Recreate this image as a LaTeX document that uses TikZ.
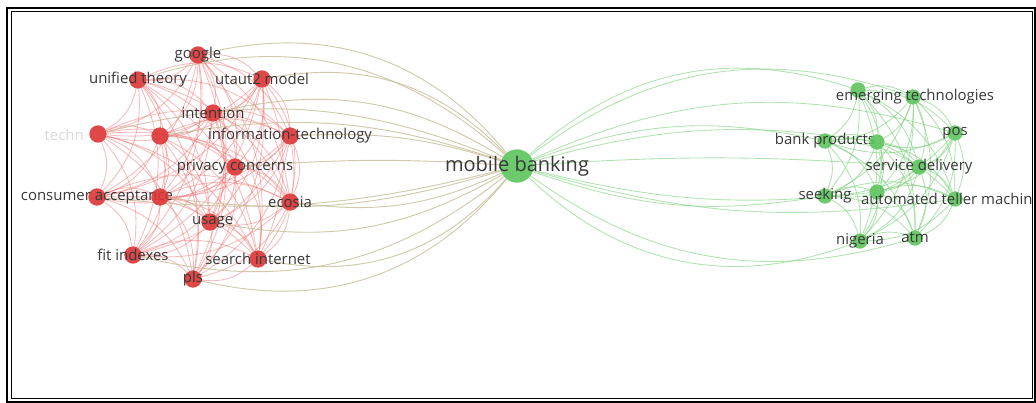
\documentclass[tikz,border=0pt]{standalone}
\usepackage{fontspec}
\setmainfont{Open Sans}

\definecolor{vosred}{RGB}{220,52,52}
\definecolor{vosgreen}{RGB}{92,196,92}
\definecolor{redlink}{RGB}{240,120,120}
\definecolor{greenlink}{RGB}{124,208,124}
\definecolor{crosslink}{RGB}{196,188,150}
\definecolor{labelgray}{RGB}{56,56,56}

\pgfdeclarelayer{links}
\pgfsetlayers{links,main}

\begin{document}
\begin{tikzpicture}
  [x=0.75pt,y=-0.75pt,
   every node/.style={circle,inner sep=0pt},
   rednode/.style={fill=vosred,minimum size=13pt,fill opacity=.9},
   greennode/.style={fill=vosgreen,minimum size=11.5pt,fill opacity=.9},
   lbl/.style={rectangle,fill=none,draw=none,text opacity=1,text=labelgray,
     font=\fontsize{11.2}{13}\selectfont},
   rededge/.style={draw=redlink,draw opacity=.5,line width=.65pt},
   greenedge/.style={draw=greenlink,draw opacity=.6,line width=.65pt},
   crossedge/.style={draw=crosslink,draw opacity=.8,line width=.7pt}]

  \useasboundingbox (0,0) rectangle (1036,403);
  \draw[line width=1.5pt] (7,8) rectangle (1035,402);
  \draw[line width=.6pt] (11,11) rectangle (1032,398);

  \begin{scope}
  \clip (12,12) rectangle (1031,397);

  % red cluster
  \node[rednode,label={[lbl]center:google}] (r1) at (198,55) {};
  \node[rednode,label={[lbl]center:unified theory}] (r2) at (138,80) {};
  \node[rednode,label={[lbl]center:utaut2 model}] (r3) at (262,79) {};
  \node[rednode,label={[lbl]center:intention}] (r4) at (213,113) {};
  \node[rednode] (r5) at (98,134) {};
  \node[lbl,text=gray!30,anchor=east] (t5) at (84,135) {techn};
  \node[rednode] (r6) at (160,136) {};
  \node[rednode,label={[lbl]center:information-technology}] (r7) at (290,136) {};
  \node[rednode,label={[lbl]center:privacy concerns}] (r8) at (235,167) {};
  \node[rednode,label={[lbl]center:consumer acceptance}] (r9) at (97,197) {};
  \node[rednode] (r10) at (160,197) {};
  \node[rednode,label={[lbl]center:ecosia}] (r11) at (290,202) {};
  \node[rednode,label={[lbl,xshift=2pt]center:usage}] (r12) at (210,222) {};
  \node[rednode,label={[lbl]center:fit indexes}] (r13) at (133,255) {};
  \node[rednode,label={[lbl]center:search internet}] (r14) at (258,259) {};
  \node[rednode,label={[lbl]center:pls}] (r15) at (193,279) {};

  % green cluster
  \node[greennode] (g1) at (858,90) {};
  \node[greennode,label={[lbl,xshift=1.5pt]center:emerging technologies}] (g2) at (913,97) {};
  \node[greennode,label={[lbl]center:pos}] (g3) at (955,133) {};
  \node[greennode,label={[lbl]center:bank products}] (g4) at (825,141) {};
  \node[greennode] (g5) at (877,142) {};
  \node[greennode,label={[lbl]center:service delivery}] (g6) at (919,167) {};
  \node[greennode,label={[lbl]center:seeking}] (g7) at (825,196) {};
  \node[greennode] (g8) at (877,192) {};
  \node[greennode,label={[lbl,xshift=-3pt]center:automated teller machine}] (g9) at (955,199) {};
  \node[greennode,label={[lbl]center:nigeria}] (g10) at (860,241) {};
  \node[greennode,label={[lbl]center:atm}] (g11) at (915,238) {};

  \node[fill=vosgreen,minimum size=25pt,fill opacity=.9,
    label={[lbl,font=\fontsize{15}{18}\selectfont]center:mobile banking}] (mb) at (517,166) {};
  \end{scope}

  \begin{pgfonlayer}{links}
  \foreach \i in {1,...,14} {
    \pgfmathtruncatemacro\k{\i+1}
    \foreach \j in {\k,...,15}
      \draw[rededge] (r\i) to[bend left=24] (r\j);
  }
  \foreach \i in {1,...,10} {
    \pgfmathtruncatemacro\k{\i+1}
    \foreach \j in {\k,...,11}
      \draw[greenedge] (g\i) to[bend left=22] (g\j);
  }
  \foreach \to/\b in {r1/32,r2/30,r3/28,r4/22,r5/18,r6/14,r7/10,r8/4,
      r9/-10,r10/-12,r11/-16,r12/-20,r13/-26,r14/-30,r15/-32}
    \draw[crossedge] (mb) to[bend right=\b] (\to);
  \foreach \to/\b in {g1/30,g2/28,g3/20,g4/16,g5/12,g6/4,
      g7/-14,g8/-10,g9/-12,g10/-32,g11/-26}
    \draw[greenedge] (mb) to[bend left=\b] (\to);
  \end{pgfonlayer}
\end{tikzpicture}
\end{document}
